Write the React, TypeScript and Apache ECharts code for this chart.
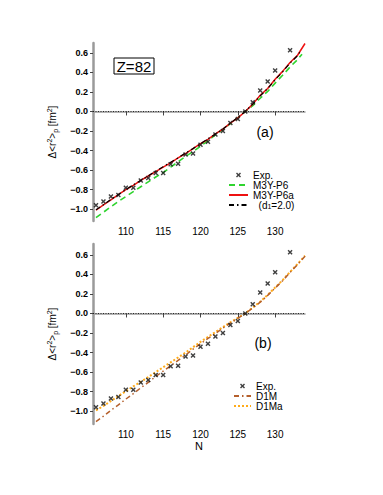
import React, { useEffect, useRef } from "react";
import * as echarts from "echarts";

// ---------- data ----------
const N_EXP = [106,107,108,109,110,111,112,113,114,115,116,117,118,119,120,121,122,123,124,125,126,127,128,129,130,132];
const EXP = [-0.96,-0.92,-0.87,-0.855,-0.78,-0.78,-0.705,-0.68,-0.63,-0.63,-0.54,-0.535,-0.44,-0.43,-0.34,-0.31,-0.235,-0.2,-0.117,-0.076,0,0.095,0.215,0.307,0.42,0.625];

const N_MODEL = [106,107,108,109,110,111,112,113,114,115,116,117,118,119,120,121,122,123,124,125,126,127,128,129,130,131,132,133,134];

const M3Y_P6A = [-1.01,-0.955,-0.905,-0.85,-0.8,-0.755,-0.705,-0.66,-0.615,-0.57,-0.525,-0.475,-0.43,-0.38,-0.33,-0.285,-0.23,-0.18,-0.12,-0.065,0,0.075,0.165,0.235,0.33,0.41,0.5,0.575,0.695];
const M3Y_P6 = [-1.085,-1.03,-0.975,-0.92,-0.87,-0.82,-0.77,-0.72,-0.67,-0.625,-0.57,-0.515,-0.46,-0.41,-0.355,-0.3,-0.24,-0.185,-0.125,-0.065,0,0.06,0.135,0.205,0.29,0.37,0.455,0.53,0.6];
const D1_20 = [-1.005,-0.955,-0.9,-0.85,-0.8,-0.75,-0.705,-0.66,-0.61,-0.565,-0.52,-0.475,-0.425,-0.38,-0.33,-0.28,-0.23,-0.18,-0.12,-0.06,0,0.075,0.16,0.235,0.325,0.405,0.495,0.57,0.69];
const D1M = [-1.105,-1.05,-0.99,-0.935,-0.875,-0.82,-0.76,-0.705,-0.645,-0.59,-0.535,-0.48,-0.425,-0.365,-0.31,-0.255,-0.205,-0.15,-0.1,-0.05,0,0.055,0.115,0.185,0.26,0.335,0.42,0.5,0.585];
const D1MA = [-0.99,-0.945,-0.895,-0.845,-0.795,-0.745,-0.7,-0.65,-0.6,-0.55,-0.5,-0.45,-0.4,-0.345,-0.29,-0.24,-0.19,-0.14,-0.09,-0.045,0,0.06,0.12,0.19,0.265,0.34,0.425,0.505,0.59];

const X_TICKS = [110,115,120,125,130];
const Y_TICKS = [-1.0,-0.8,-0.6,-0.4,-0.2,0.0,0.2,0.4,0.6];

const pairs = (xs: number[], ys: number[]) => xs.map((x, i) => [x, ys[i]]);

const CROSS = "path://M0,2L2,0L5,3L8,0L10,2L7,5L10,8L8,10L5,7L2,10L0,8L3,5Z";
const FONT = "Liberation Sans, Arial, sans-serif";

export default function App() {
  const ref = useRef<HTMLDivElement>(null);
  useEffect(() => {
    if (!ref.current) return;
    const chart = echarts.init(ref.current, null, { renderer: "svg" });

    const xAxis = (gi: number, withName: boolean) => ({
      type: "value",
      gridIndex: gi,
      min: 105.6,
      max: 134,
      name: withName ? "N" : "",
      nameLocation: "middle",
      nameGap: 16,
      nameTextStyle: { fontSize: 11, color: "#000", fontFamily: FONT },
      splitLine: { show: false },
      axisLine: { lineStyle: { color: "#9a9a9a", width: 1.5 } },
      axisTick: { customValues: X_TICKS, length: 4, lineStyle: { color: "#444" } },
      axisLabel: { customValues: X_TICKS, margin: 5, fontSize: 10, color: "#000", fontFamily: FONT },
    });
    const yAxis = (gi: number, min: number, max: number) => ({
      type: "value",
      gridIndex: gi,
      min,
      max,
      name: "Δ<r{sup|2}>{sub|p} [fm{sup|2}]",
      nameLocation: "middle",
      nameRotate: 90,
      nameGap: 34,
      nameTextStyle: {
        fontSize: 10,
        color: "#000",
        fontFamily: FONT,
        rich: {
          sup: { fontSize: 7, verticalAlign: "top", color: "#000", fontFamily: FONT, padding: [0, 0, 6, 0] },
          sub: { fontSize: 7, verticalAlign: "bottom", color: "#000", fontFamily: FONT, padding: [5, 0, 0, 0] },
        },
      },
      splitLine: { show: false },
      axisLine: { show: true, lineStyle: { color: "#9a9a9a", width: 2.5 } },
      axisTick: { customValues: Y_TICKS, length: 3, lineStyle: { color: "#444" } },
      axisLabel: {
        customValues: Y_TICKS,
        margin: 5,
        fontSize: 9,
        fontWeight: "bold",
        color: "#000",
        fontFamily: FONT,
        formatter: (v: number) => (v < 0 ? "\u2212" + Math.abs(v).toFixed(1) : v.toFixed(1)),
      },
    });

    const zeroLine = {
      silent: true,
      symbol: "none",
      label: { show: false },
      lineStyle: { color: "#000", type: [1, 1.5], width: 0.8 },
      data: [{ yAxis: 0 }],
    };

    const expSeries = (gi: number) => ({
      name: "Exp.",
      type: "scatter",
      xAxisIndex: gi,
      yAxisIndex: gi,
      symbol: CROSS,
      symbolSize: 5,
      itemStyle: { color: "#111" },
      data: pairs(N_EXP, EXP),
      z: 5,
      markLine: zeroLine,
    });

    const lineSeries = (gi: number, name: string, xs: number[], ys: number[], color: string, type: any, width: number, z = 3) => ({
      name,
      type: "line",
      xAxisIndex: gi,
      yAxisIndex: gi,
      symbol: "none",
      showSymbol: false,
      smooth: false,
      data: pairs(xs, ys),
      lineStyle: { color, type, width },
      itemStyle: { color },
      z,
    });

    const legendBase = {
      orient: "vertical",
      itemHeight: 5,
      itemGap: 0,
      textStyle: {
        fontSize: 10,
        lineHeight: 10,
        color: "#000",
        fontFamily: FONT,
        rich: {
          sub: { fontSize: 7, verticalAlign: "bottom", lineHeight: 10, padding: [3, 0, 0, 0], color: "#000", fontFamily: FONT },
        },
      },
      selectedMode: false,
    };
    const lineItem = (name: string) => ({ name, itemStyle: { opacity: 0 } });

    chart.setOption({
      animation: false,
      backgroundColor: "#fff",
      grid: [
        { left: 93, top: 43, width: 212, height: 178 },
        { left: 93, top: 244, width: 212, height: 180 },
      ],
      xAxis: [xAxis(0, false), xAxis(1, true)],
      yAxis: [yAxis(0, -1.12, 0.7), yAxis(1, -1.13, 0.71)],
      legend: [
        {
          ...legendBase,
          left: 223,
          top: 165,
          itemWidth: 19,
          data: [{ name: "Exp." }, lineItem("M3Y-P6"), lineItem("M3Y-P6a"), lineItem("(d1=2.0)")],
          formatter: (n: string) => (n === "(d1=2.0)" ? "  (d{sub|1}=2.0)" : n),
        },
        {
          ...legendBase,
          left: 228,
          top: 376,
          itemWidth: 17,
          data: [{ name: "Exp. " }, lineItem("D1M"), lineItem("D1Ma")],
        },
      ],
      series: [
        expSeries(0),
        lineSeries(0, "M3Y-P6", N_MODEL.slice(0, 28).concat([133.6]), M3Y_P6.slice(0, 28).concat([0.585]), "#2fd42f", [6, 4], 1.6, 2),
        lineSeries(0, "M3Y-P6a", N_MODEL, M3Y_P6A, "#ee1111", "solid", 1.5, 3),
        lineSeries(0, "(d1=2.0)", N_MODEL.slice(0, 28).concat([133.5]), D1_20.slice(0, 28).concat([0.63]), "#000", [5, 3, 1.5, 3], 1.2, 4),
        { ...expSeries(1), name: "Exp. " },
        lineSeries(1, "D1M", N_MODEL, D1M, "#b5602c", [5, 3, 1.5, 3], 1.5, 3),
        lineSeries(1, "D1Ma", N_MODEL, D1MA, "#ffab1a", [2, 2], 2, 2),
      ],
      graphic: [
        { type: "rect", shape: { x: 114, y: 58, width: 40, height: 16 }, style: { fill: "#fff", stroke: "#000", lineWidth: 1 } },
        { type: "text", x: 134, y: 66, style: { text: "Z=82", fontSize: 15, fontFamily: FONT, fill: "#000", align: "center", verticalAlign: "middle" } },
        { type: "text", x: 265, y: 132, style: { text: "(a)", fontSize: 14, fontFamily: FONT, fill: "#000", align: "center", verticalAlign: "middle" } },
        { type: "text", x: 263, y: 343, style: { text: "(b)", fontSize: 14, fontFamily: FONT, fill: "#000", align: "center", verticalAlign: "middle" } },
      ],
    });
    return () => chart.dispose();
  }, []);
  return <div ref={ref} style={{ position: "fixed", left: 0, top: 0, width: 383, height: 495 }} />;
}
